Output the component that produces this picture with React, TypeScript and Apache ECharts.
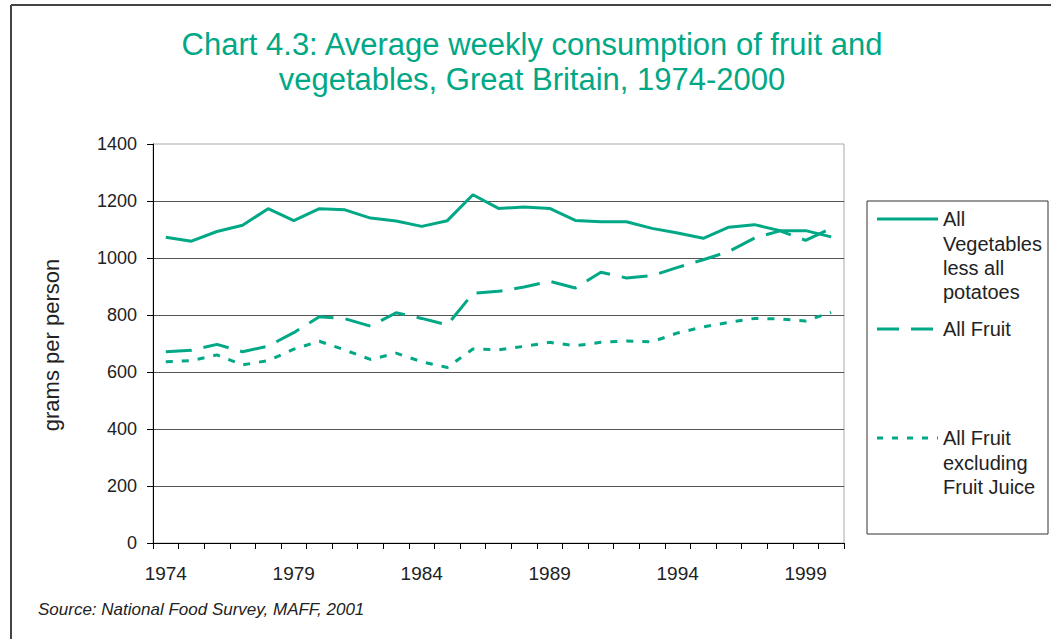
import React, { useEffect, useRef } from "react";
import * as echarts from "echarts";

const years = ["1974","1975","1976","1977","1978","1979","1980","1981","1982","1983","1984","1985","1986","1987","1988","1989","1990","1991","1992","1993","1994","1995","1996","1997","1998","1999","2000"];
const vegetables = [1073,1059,1093,1115,1173,1131,1173,1169,1140,1130,1111,1131,1222,1174,1179,1174,1132,1127,1127,1104,1088,1069,1108,1117,1096,1096,1074];
const allFruit = [671,676,697,671,691,738,794,787,761,808,788,765,876,883,898,918,895,950,930,938,967,994,1023,1070,1095,1062,1104];
const fruitExJuice = [636,640,660,625,640,680,708,677,644,666,636,616,681,678,690,704,692,704,709,706,737,758,774,788,786,779,809];

const titleLines = ["Chart 4.3: Average weekly consumption of fruit and", "vegetables, Great Britain, 1974-2000"];
const seriesNames = ["All Vegetables less all potatoes", "All Fruit", "All Fruit excluding Fruit Juice"];
const legendLabels = ["All\nVegetables\nless all\npotatoes", "All Fruit", "All Fruit\nexcluding\nFruit Juice"];
const sourceText = "Source: National Food Survey, MAFF, 2001";

const TEAL = "#00A886";
const FONT = "'Liberation Sans', Arial, sans-serif";

export default function App() {
  const ref = useRef<HTMLDivElement>(null);
  useEffect(() => {
    if (!ref.current) return;
    const chart = echarts.init(ref.current, null, { renderer: "svg" });
    const legendY = [219, 329, 438];
    const dashes: any[] = [null, [22, 12], [6, 9]];
    const graphic: any[] = [
      { type: "line", shape: { x1: 11, y1: 5, x2: 1051, y2: 5 }, style: { stroke: "#444", lineWidth: 2 } },
      { type: "line", shape: { x1: 11, y1: 5, x2: 11, y2: 639 }, style: { stroke: "#444", lineWidth: 2 } },
      { type: "text", x: 532, y: 44, style: { text: titleLines[0], fill: TEAL, fontSize: 31, fontFamily: FONT, align: "center", verticalAlign: "middle" } },
      { type: "text", x: 532, y: 79, style: { text: titleLines[1], fill: TEAL, fontSize: 31, fontFamily: FONT, align: "center", verticalAlign: "middle" } },
      { type: "text", x: 38, y: 609, style: { text: sourceText, fill: "#222", fontSize: 17, fontStyle: "italic", fontFamily: FONT, align: "left", verticalAlign: "middle" } },
      { type: "text", x: 51, y: 345, rotation: Math.PI / 2, style: { text: "grams per person", fill: "#222", fontSize: 22, fontFamily: FONT, align: "center", verticalAlign: "middle" } },
      { type: "rect", shape: { x: 867, y: 201, width: 181, height: 333 }, style: { fill: "#fff", stroke: "#333", lineWidth: 1 } },
    ];
    legendLabels.forEach((lbl, i) => {
      graphic.push({ type: "line", shape: { x1: 877, y1: legendY[i], x2: 938, y2: legendY[i] }, style: { stroke: TEAL, lineWidth: 3, lineDash: dashes[i] || undefined } });
      graphic.push({ type: "text", x: 943, y: legendY[i] - 12, style: { text: lbl, fill: "#222", fontSize: 20, lineHeight: 24.4, fontFamily: FONT, align: "left", verticalAlign: "top" } });
    });
    const mk = (name: string, data: number[], type: any) => ({
      name, type: "line", data, symbol: "none", lineStyle: { color: TEAL, width: 3, type }, itemStyle: { color: TEAL },
    });
    chart.setOption({
      animation: false,
      backgroundColor: "#fff",
      grid: { left: 153, right: 207, top: 144, bottom: 96, show: true, borderColor: "#aaa", borderWidth: 1, backgroundColor: "transparent" },
      xAxis: {
        type: "category", data: years, boundaryGap: true,
        axisLine: { lineStyle: { color: "#000", width: 1 } },
        axisTick: { show: true, interval: 0, length: 6, lineStyle: { color: "#000" } },
        axisLabel: { interval: 4, margin: 21, fontSize: 19, color: "#222", fontFamily: FONT },
        splitLine: { show: false },
      },
      yAxis: {
        type: "value", min: 0, max: 1400, interval: 200,
        axisLine: { show: true, lineStyle: { color: "#000", width: 1 } },
        axisTick: { show: true, length: 6, lineStyle: { color: "#000" } },
        axisLabel: { margin: 16, fontSize: 18, color: "#222", fontFamily: FONT, formatter: (v: number) => String(v) },
        splitLine: { show: true, showMaxLine: false, lineStyle: { color: "#555", width: 1 } },
      },
      series: [
        mk(seriesNames[0], vegetables, "solid"),
        mk(seriesNames[1], allFruit, [26, 12]),
        mk(seriesNames[2], fruitExJuice, [7, 9]),
      ],
      graphic,
    });
    return () => chart.dispose();
  }, []);
  return <div ref={ref} style={{ position: "fixed", left: 0, top: 0, width: 1051, height: 639 }} />;
}
